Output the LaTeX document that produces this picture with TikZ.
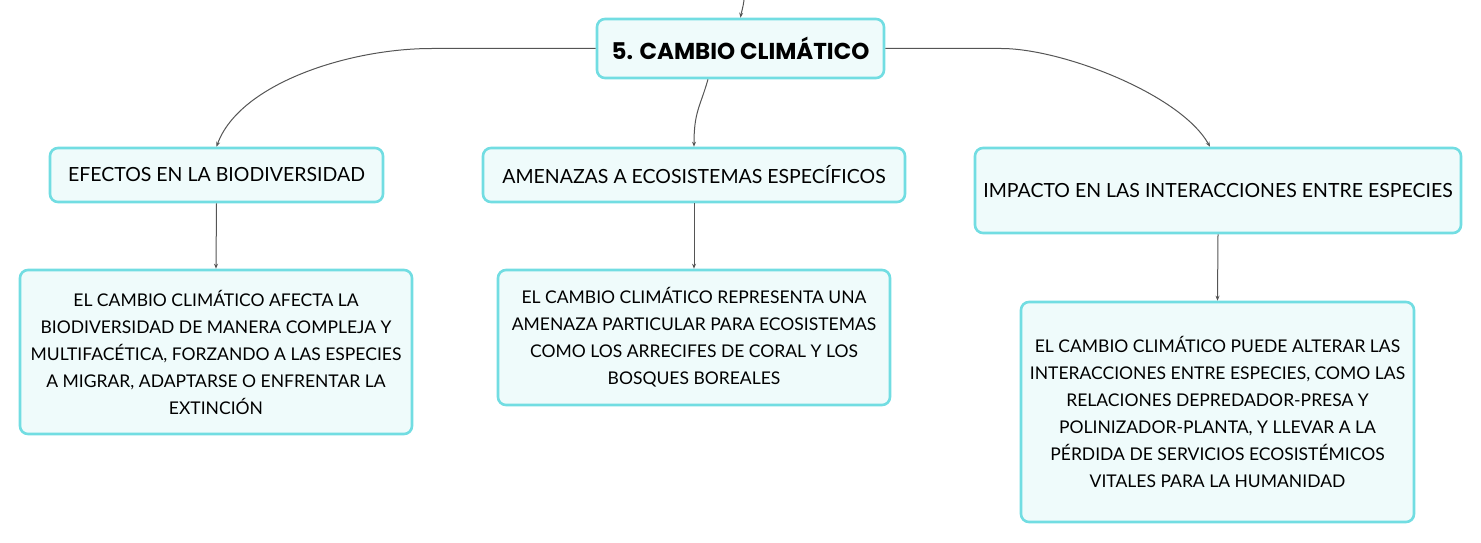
\documentclass[tikz,border=0pt]{standalone}
\usepackage{fontspec}
\setmainfont{Lato}
\newfontfamily\titlefont{Poppins}
\usetikzlibrary{arrows.meta}
\definecolor{bordc}{HTML}{72DDE2}
\definecolor{fillc}{HTML}{EFFBFB}
\definecolor{linec}{HTML}{555555}
\tikzset{
  boxbase/.style={draw=bordc, line width=2.6pt, fill=fillc, rounded corners=8pt, align=center, inner sep=0pt, text=black},
  topbox/.style={boxbase, font=\titlefont\bfseries\fontsize{23}{28}\selectfont},
  subbox/.style={boxbase, font=\fontsize{19.5}{26}\selectfont},
  detbox/.style={boxbase, font=\fontsize{17.5}{27}\selectfont},
  conn/.style={draw=linec, line width=1pt, -{Stealth[length=5pt,width=4pt]}},
}
\begin{document}
\begin{tikzpicture}[x=1pt,y=-1pt]
\useasboundingbox (0,0) rectangle (1481,543);
\node[topbox, minimum width=287pt, minimum height=59pt] (top) at (740.5,48.5) {5. CAMBIO CLIMÁTICO};
\node[subbox, minimum width=333pt, minimum height=54pt] (efe) at (216.5,175) {EFECTOS EN LA BIODIVERSIDAD};
\node[subbox, minimum width=422pt, minimum height=54pt] (ame) at (694,175) {AMENAZAS A ECOSISTEMAS ESPECÍFICOS};
\node[subbox, minimum width=486pt, minimum height=85pt] (imp) at (1218,190.5) {IMPACTO EN LAS INTERACCIONES ENTRE ESPECIES};
\node[detbox, minimum width=392pt, minimum height=164pt] (d1) at (216,352) {EL CAMBIO CLIMÁTICO AFECTA LA\\BIODIVERSIDAD DE MANERA COMPLEJA Y\\MULTIFACÉTICA, FORZANDO A LAS ESPECIES\\A MIGRAR, ADAPTARSE O ENFRENTAR LA\\EXTINCIÓN};
\node[detbox, minimum width=392pt, minimum height=135pt] (d2) at (694,337.5) {EL CAMBIO CLIMÁTICO REPRESENTA UNA\\AMENAZA PARTICULAR PARA ECOSISTEMAS\\COMO LOS ARRECIFES DE CORAL Y LOS\\BOSQUES BOREALES};
\node[detbox, minimum width=393pt, minimum height=220pt] (d3) at (1217.5,412) {EL CAMBIO CLIMÁTICO PUEDE ALTERAR LAS\\INTERACCIONES ENTRE ESPECIES, COMO LAS\\RELACIONES DEPREDADOR-PRESA Y\\POLINIZADOR-PLANTA, Y LLEVAR A LA\\PÉRDIDA DE SERVICIOS ECOSISTÉMICOS\\VITALES PARA LA HUMANIDAD};
\coordinate (in) at (744,0);
\draw[conn] (in) .. controls (743,8) and (741,14) .. (top.north);
\draw[conn] (top.west) -- ++(-164,0) .. controls +(-83,0) and +(23,-63) .. (efe.north);
\draw[conn] ([xshift=-32.5pt]top.south) .. controls +(-8,28) and +(0,-35) .. (ame.north);
\draw[conn] (top.east) -- ++(116,0) .. controls +(60,0) and +(-30,-53) .. ([xshift=-8pt]imp.north);
\draw[conn] (efe.south) -- (d1.north);
\draw[conn] (ame.south) -- (d2.north);
\draw[conn] (imp.south) -- (d3.north);
\end{tikzpicture}
\end{document}
